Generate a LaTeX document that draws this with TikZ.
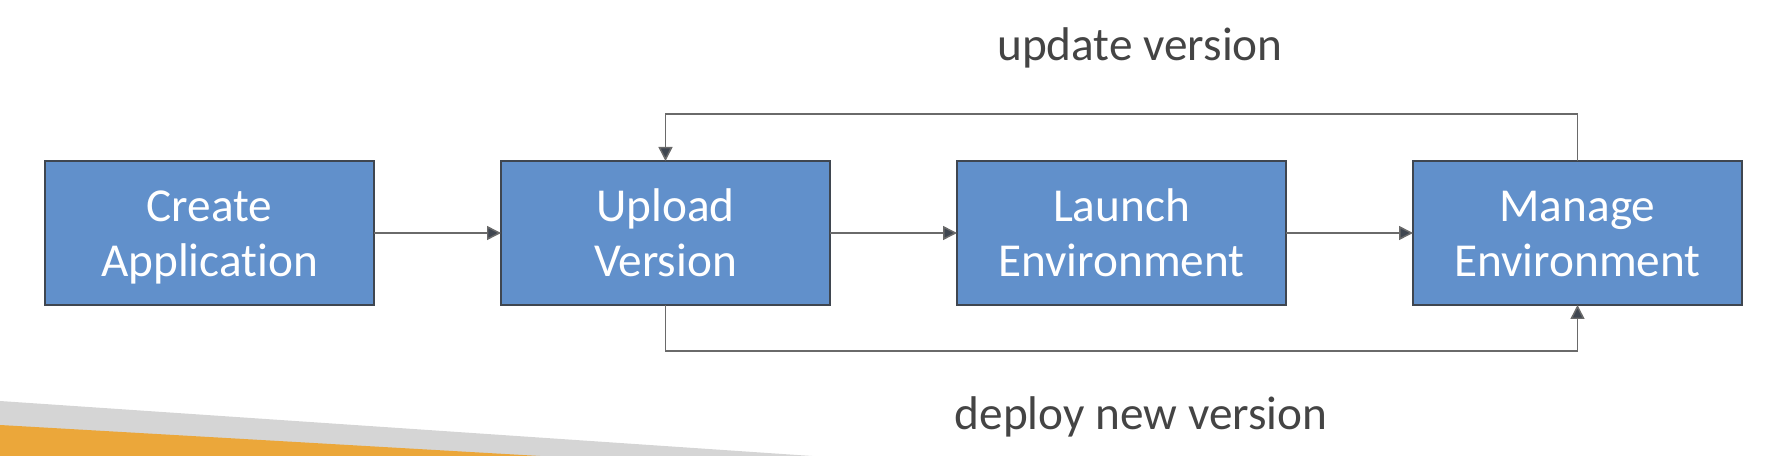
\documentclass[tikz,border=0pt]{standalone}
\usepackage{fontspec}
\setmainfont{Carlito}[Ligatures=NoCommon]
\usepackage{tikz}
\usetikzlibrary{positioning,arrows.meta}

\definecolor{boxblue}{HTML}{6190CB}
\definecolor{boxedge}{HTML}{3F4650}
\definecolor{linegrey}{HTML}{6A6A6A}
\definecolor{textgrey}{HTML}{444444}
\definecolor{bandgrey}{HTML}{D5D5D5}
\definecolor{bandorange}{HTML}{EBA73A}

\newcommand{\boxstrut}{\rule[-0.19em]{0pt}{1.06em}}

\tikzset{
  stepbox/.style={draw=boxedge, line width=1.4pt, fill=boxblue, text=white,
    minimum width=6.58cm, minimum height=2.88cm, align=center, outer sep=0pt,
    font=\fontsize{26.9}{31.7}\selectfont},
  flow/.style={draw=linegrey, line width=0.85pt,
    -{Triangle[length=0.28cm,width=0.28cm,fill=boxedge]}},
  caption/.style={text=textgrey, anchor=base, font=\fontsize{26.9}{31.7}\selectfont}
}

\begin{document}
\begin{tikzpicture}
        \useasboundingbox (0,0) rectangle (35.52,9.12);
        % corner bands
        \fill[bandgrey] (0,1.10) -- (16.24,0) -- (0,0) -- cycle;
        \fill[bandorange] (0,0.62) -- (10.80,0) -- (0,0) -- cycle;
        % steps
        \node[stepbox] (create) at (4.19,4.46) {\boxstrut Create\\\boxstrut Application};
        \node[stepbox, right=2.54cm of create] (upload) {\boxstrut Upload\\\boxstrut Version};
        \node[stepbox, right=2.54cm of upload] (launch) {\boxstrut Launch\\\boxstrut Environment};
        \node[stepbox, right=2.54cm of launch] (manage) {\boxstrut Manage\\\boxstrut Environment};
        \coordinate (top) at (0,6.84);
        \coordinate (bottom) at (0,2.10);
        \draw[flow] (create.east) -- (upload.west);
        \draw[flow] (upload.east) -- (launch.west);
        \draw[flow] (launch.east) -- (manage.west);
        \draw[flow] (manage.north) -- (manage.north |- top) -- (upload.north |- top) -- (upload.north);
        \draw[flow] (upload.south) -- (upload.south |- bottom) -- (manage.south |- bottom) -- (manage.south);
        \node[caption] (update) at (22.80,7.90) {update version};
        \node[caption] (deploy) at (22.82,0.52) {deploy new version};
    \end{tikzpicture}
\end{document}
